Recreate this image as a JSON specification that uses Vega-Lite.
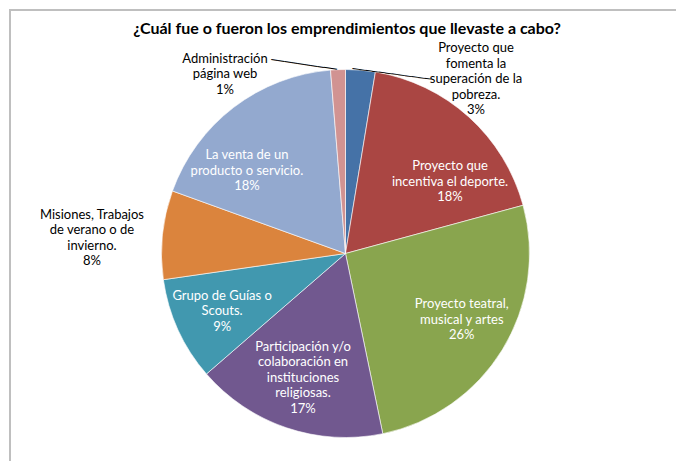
{
  "$schema": "https://vega.github.io/schema/vega-lite/v6.json",
  "width": 668,
  "height": 453,
  "autosize": {"type": "none"},
  "padding": {"left": 10, "top": 10, "right": -2, "bottom": -2},
  "background": "white",
  "view": {"stroke": "#BFBFBF", "strokeWidth": 2},
  "config": {
    "view": {"stroke": "#BFBFBF", "strokeWidth": 2},
    "text": {"font": "Lato", "fontSize": 13, "lineHeight": 15.5, "align": "center", "baseline": "middle"}
  },
  "title": {
    "text": "¿Cuál fue o fueron los emprendimientos que llevaste a cabo?",
    "font": "Lato",
    "fontSize": 16,
    "fontWeight": "bold",
    "color": "#000000",
    "anchor": "middle",
    "frame": "group",
    "offset": -40,
    "baseline": "alphabetic",
    "dx": 3
  },
  "data": {
    "values": [
      {"cat": "Proyecto que fomenta la superación de la pobreza.", "k": 1, "n": 2, "lines": ["Proyecto que", "fomenta la", "superación de la", "pobreza."]},
      {"cat": "Proyecto que incentiva el deporte.", "k": 2, "n": 14, "lines": ["Proyecto que", "incentiva el deporte."]},
      {"cat": "Proyecto teatral, musical y artes", "k": 3, "n": 20, "lines": ["Proyecto teatral,", "musical y artes"]},
      {"cat": "Participación y/o colaboración en instituciones religiosas.", "k": 4, "n": 13, "lines": ["Participación y/o", "colaboración en", "instituciones", "religiosas."]},
      {"cat": "Grupo de Guías o Scouts.", "k": 5, "n": 7, "lines": ["Grupo de Guías o", "Scouts."]},
      {"cat": "Misiones, Trabajos de verano o de invierno.", "k": 6, "n": 6, "lines": ["Misiones, Trabajos", "de verano o de", "invierno."]},
      {"cat": "La venta de un producto o servicio.", "k": 7, "n": 14, "lines": ["La venta de un", "producto o servicio."]},
      {"cat": "Administración página web", "k": 8, "n": 1, "lines": ["Administración", "página web"]}
    ]
  },
  "transform": [
    {"stack": "n", "groupby": [], "sort": [{"field": "k", "order": "ascending"}], "as": ["s0", "s1"], "offset": "normalize"},
    {"calculate": "(datum.s0 + datum.s1) / 2", "as": "mid"},
    {"calculate": "split(join(datum.lines, '|') + '|' + format(datum.s1 - datum.s0, '.0%'), '|')", "as": "label"}
  ],
  "layer": [
    {
      "mark": {"type": "arc", "outerRadius": 184, "x": 335.5, "y": 243.5, "stroke": "#ffffff", "strokeWidth": 0.6},
      "encoding": {
        "theta": {"field": "s0", "type": "quantitative", "stack": null, "scale": {"domain": [0, 1]}},
        "theta2": {"field": "s1"},
        "color": {
          "field": "cat",
          "type": "nominal",
          "legend": null,
          "scale": {
            "domain": [
              "Proyecto que fomenta la superación de la pobreza.",
              "Proyecto que incentiva el deporte.",
              "Proyecto teatral, musical y artes",
              "Participación y/o colaboración en instituciones religiosas.",
              "Grupo de Guías o Scouts.",
              "Misiones, Trabajos de verano o de invierno.",
              "La venta de un producto o servicio.",
              "Administración página web"
            ],
            "range": ["#4572A7", "#AA4643", "#89A54E", "#71588F", "#4198AF", "#DB843D", "#93A9CF", "#D19392"]
          }
        }
      }
    },
    {
      "transform": [{"filter": "datum.k == 2"}],
      "mark": {"type": "text", "radius": 140, "x": 335.5, "y": 243.5, "dx": 10.7, "dy": 16.9, "color": "#ffffff"},
      "encoding": {"theta": {"field": "mid", "type": "quantitative", "stack": null}, "text": {"field": "label"}}
    },
    {
      "transform": [{"filter": "datum.k == 3"}],
      "mark": {"type": "text", "radius": 140, "x": 335.5, "y": 243.5, "dx": -3, "dy": -22.3, "color": "#ffffff"},
      "encoding": {"theta": {"field": "mid", "type": "quantitative", "stack": null}, "text": {"field": "label"}}
    },
    {
      "transform": [{"filter": "datum.k == 4"}],
      "mark": {"type": "text", "radius": 140, "x": 335.5, "y": 243.5, "dx": 2.4, "dy": -39.2, "color": "#ffffff"},
      "encoding": {"theta": {"field": "mid", "type": "quantitative", "stack": null}, "text": {"field": "label"}}
    },
    {
      "transform": [{"filter": "datum.k == 5"}],
      "mark": {"type": "text", "radius": 140, "x": 335.5, "y": 243.5, "dx": 4, "dy": -15.9, "color": "#ffffff"},
      "encoding": {"theta": {"field": "mid", "type": "quantitative", "stack": null}, "text": {"field": "label"}}
    },
    {
      "transform": [{"filter": "datum.k == 7"}],
      "mark": {"type": "text", "radius": 140, "x": 335.5, "y": 243.5, "dx": -13.5, "dy": 13.2, "color": "#ffffff"},
      "encoding": {"theta": {"field": "mid", "type": "quantitative", "stack": null}, "text": {"field": "label"}}
    },
    {
      "transform": [{"filter": "datum.k == 1"}],
      "mark": {"type": "text", "radius": 184, "x": 335.5, "y": 243.5, "dx": 115.5, "dy": -21.9, "color": "#000000"},
      "encoding": {"theta": {"field": "mid", "type": "quantitative", "stack": null}, "text": {"field": "label"}}
    },
    {
      "transform": [{"filter": "datum.k == 6"}],
      "mark": {"type": "text", "radius": 184, "x": 335.5, "y": 243.5, "dx": -70.5, "dy": -19.9, "color": "#000000"},
      "encoding": {"theta": {"field": "mid", "type": "quantitative", "stack": null}, "text": {"field": "label"}}
    },
    {
      "transform": [{"filter": "datum.k == 8"}],
      "mark": {"type": "text", "radius": 184, "x": 335.5, "y": 243.5, "dx": -113, "dy": -10.9, "color": "#000000"},
      "encoding": {"theta": {"field": "mid", "type": "quantitative", "stack": null}, "text": {"field": "label"}}
    },
    {
      "transform": [{"filter": "datum.k == 1"}],
      "mark": {"type": "text", "text": "────────────", "font": "DejaVu Sans", "fontSize": 11, "radius": 184, "x": 335.5, "y": 243.5, "angle": 7.7, "dx": 31.5, "dy": 0.3, "color": "#000000"},
      "encoding": {"theta": {"field": "mid", "type": "quantitative", "stack": null}}
    },
    {
      "transform": [{"filter": "datum.k == 8"}],
      "mark": {"type": "text", "text": "──────────", "font": "DejaVu Sans", "fontSize": 11, "radius": 184, "x": 335.5, "y": 243.5, "angle": 8.4, "dx": -34.3, "dy": 0.6, "color": "#000000"},
      "encoding": {"theta": {"field": "mid", "type": "quantitative", "stack": null}}
    }
  ]
}
